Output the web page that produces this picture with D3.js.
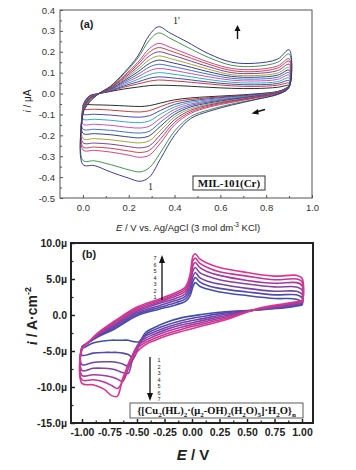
<!DOCTYPE html>
<html>
<head>
<meta charset="utf-8">
<script src="https://d3js.org/d3.v7.min.js"></script>
<style>
  body { margin: 0; background: #fff; }
  svg { display: block; }
  text { font-family: "Liberation Sans", Arial, sans-serif; }
</style>
</head>
<body>
<svg id="chart" width="356" height="470"></svg>
<script>
// ---------- panel (a) data : MIL-101(Cr), 13 scans, outer -> inner ----------
const potA_up = [0.00, 0.01, 0.03, 0.07, 0.12, 0.18, 0.24, 0.29, 0.33, 0.38, 0.45, 0.55, 0.65, 0.75, 0.85, 0.90];
const potA_dn = [0.90, 0.86, 0.75, 0.65, 0.55, 0.47, 0.40, 0.34, 0.29, 0.25, 0.20, 0.12, 0.05, 0.00];

const curA_up = [
  [-0.100, -0.070, -0.040, 0.000, 0.035, 0.100, 0.180, 0.280, 0.320, 0.290, 0.250, 0.190, 0.150, 0.145, 0.165, 0.210],
  [-0.095, -0.065, -0.035, 0.000, 0.033, 0.095, 0.170, 0.255, 0.290, 0.265, 0.225, 0.172, 0.135, 0.130, 0.150, 0.190],
  [-0.090, -0.060, -0.030, 0.000, 0.030, 0.085, 0.150, 0.215, 0.240, 0.222, 0.192, 0.150, 0.120, 0.115, 0.132, 0.167],
  [-0.088, -0.058, -0.028, 0.000, 0.028, 0.080, 0.140, 0.198, 0.220, 0.205, 0.178, 0.140, 0.110, 0.105, 0.122, 0.155],
  [-0.085, -0.055, -0.026, 0.000, 0.026, 0.074, 0.128, 0.180, 0.200, 0.187, 0.163, 0.128, 0.100, 0.096, 0.110, 0.140],
  [-0.082, -0.052, -0.024, 0.000, 0.024, 0.068, 0.116, 0.162, 0.180, 0.168, 0.147, 0.116, 0.090, 0.086, 0.098, 0.125],
  [-0.080, -0.050, -0.022, 0.000, 0.022, 0.062, 0.104, 0.144, 0.160, 0.150, 0.132, 0.104, 0.082, 0.078, 0.088, 0.112],
  [-0.077, -0.047, -0.020, 0.000, 0.020, 0.056, 0.092, 0.127, 0.140, 0.132, 0.116, 0.092, 0.073, 0.069, 0.078, 0.100],
  [-0.074, -0.045, -0.018, 0.000, 0.018, 0.050, 0.080, 0.109, 0.120, 0.114, 0.100, 0.080, 0.064, 0.060, 0.068, 0.088],
  [-0.070, -0.042, -0.016, 0.000, 0.016, 0.043, 0.068, 0.091, 0.100, 0.095, 0.084, 0.067, 0.054, 0.050, 0.057, 0.075],
  [-0.066, -0.040, -0.014, 0.000, 0.014, 0.037, 0.056, 0.073, 0.080, 0.076, 0.068, 0.055, 0.045, 0.042, 0.048, 0.062],
  [-0.062, -0.037, -0.012, 0.000, 0.012, 0.031, 0.046, 0.059, 0.065, 0.062, 0.056, 0.046, 0.037, 0.034, 0.040, 0.050],
  [-0.058, -0.034, -0.010, 0.000, 0.010, 0.022, 0.031, 0.038, 0.040, 0.039, 0.036, 0.030, 0.025, 0.024, 0.030, 0.040]
];
const curA_dn = [
  [0.030, 0.000, -0.030, -0.055, -0.085, -0.120, -0.200, -0.310, -0.400, -0.420, -0.405, -0.375, -0.345, -0.340],
  [0.030, 0.000, -0.028, -0.050, -0.078, -0.110, -0.180, -0.280, -0.355, -0.375, -0.365, -0.340, -0.322, -0.320],
  [0.032, 0.003, -0.022, -0.042, -0.065, -0.095, -0.150, -0.235, -0.295, -0.305, -0.295, -0.280, -0.272, -0.270],
  [0.032, 0.004, -0.020, -0.038, -0.060, -0.088, -0.138, -0.215, -0.272, -0.282, -0.275, -0.262, -0.256, -0.255],
  [0.033, 0.005, -0.018, -0.035, -0.055, -0.080, -0.125, -0.195, -0.250, -0.260, -0.254, -0.242, -0.237, -0.235],
  [0.033, 0.006, -0.016, -0.032, -0.050, -0.072, -0.112, -0.175, -0.226, -0.236, -0.232, -0.221, -0.216, -0.215],
  [0.034, 0.007, -0.014, -0.028, -0.045, -0.064, -0.100, -0.155, -0.202, -0.212, -0.208, -0.197, -0.192, -0.190],
  [0.034, 0.008, -0.012, -0.025, -0.040, -0.057, -0.088, -0.136, -0.180, -0.189, -0.186, -0.176, -0.171, -0.170],
  [0.035, 0.009, -0.010, -0.022, -0.035, -0.050, -0.076, -0.117, -0.156, -0.165, -0.162, -0.152, -0.147, -0.146],
  [0.035, 0.010, -0.008, -0.018, -0.030, -0.042, -0.064, -0.098, -0.131, -0.139, -0.137, -0.128, -0.123, -0.122],
  [0.036, 0.011, -0.006, -0.015, -0.025, -0.035, -0.052, -0.080, -0.106, -0.113, -0.111, -0.103, -0.099, -0.098],
  [0.036, 0.012, -0.004, -0.012, -0.020, -0.028, -0.040, -0.062, -0.082, -0.088, -0.086, -0.079, -0.075, -0.074],
  [0.037, 0.013, -0.002, -0.009, -0.015, -0.021, -0.030, -0.045, -0.058, -0.062, -0.060, -0.056, -0.054, -0.054]
];
const colorsA = ["#27278a", "#2f8a35", "#c8307f", "#d42a2a", "#6b2c92", "#9c9a1c", "#1f2a7e",
                 "#2a62c4", "#c43ab4", "#1aa3b3", "#3434a8", "#c42222", "#151515"];
const ticksA_x = [0.0, 0.2, 0.4, 0.6, 0.8, 1.0];
const ticksA_y = [-0.5, -0.4, -0.3, -0.2, -0.1, 0.0, 0.1, 0.2, 0.3, 0.4];

// ---------- panel (b) data : Cu complex, 7 scans, 1 (blue) -> 7 (pink) ----------
const potB_up = [-1.00, -0.95, -0.85, -0.70, -0.50, -0.30, -0.15, -0.06, -0.02, 0.01, 0.03, 0.07, 0.14, 0.25, 0.50, 0.75, 0.95, 1.00];
const potB_dn = [1.00, 0.97, 0.85, 0.60, 0.30, 0.10, -0.10, -0.25, -0.35, -0.42, -0.48, -0.53, -0.58, -0.63, -0.68, -0.73, -0.80, -0.90, -1.00];

const curB_up = [
  [-4.4, -3.9, -3.0, -1.9, -0.1, 0.8, 1.4, 1.9, 2.6, 4.0, 4.5, 4.0, 3.6, 3.2, 2.7, 2.3, 2.2, 1.8],
  [-4.5, -3.9, -2.9, -1.7, 0.1, 1.05, 1.7, 2.25, 3.1, 4.7, 5.2, 4.6, 4.1, 3.7, 3.2, 2.8, 2.8, 2.4],
  [-4.5, -3.9, -2.8, -1.5, 0.3, 1.3, 2.0, 2.6, 3.6, 5.4, 5.9, 5.2, 4.7, 4.3, 3.7, 3.3, 3.3, 2.9],
  [-4.6, -3.9, -2.7, -1.3, 0.5, 1.6, 2.3, 2.95, 4.1, 6.2, 6.6, 5.9, 5.4, 4.9, 4.3, 3.9, 3.9, 3.5],
  [-4.7, -3.9, -2.6, -1.1, 0.7, 1.8, 2.6, 3.3, 4.6, 6.9, 7.3, 6.6, 6.0, 5.5, 4.8, 4.4, 4.5, 4.1],
  [-4.7, -3.9, -2.5, -0.9, 0.9, 2.0, 2.85, 3.6, 5.1, 7.6, 7.9, 7.2, 6.6, 6.0, 5.4, 4.9, 5.0, 4.6],
  [-4.8, -3.9, -2.4, -0.8, 1.1, 2.2, 3.1, 3.9, 5.5, 8.2, 8.5, 7.8, 7.2, 6.6, 5.9, 5.4, 5.5, 5.1]
];
const curB_dn = [
  [1.4, 1.3, 1.0, 0.70, 0.45, 0.10, -0.4, -1.1, -1.8, -2.4, -3.7, -3.7, -3.5, -3.5, -3.5, -3.5, -3.6, -3.9, -4.6],
  [1.5, 1.4, 1.1, 0.72, 0.30, -0.20, -0.8, -1.5, -2.1, -2.7, -4.2, -5.9, -5.5, -5.3, -5.2, -5.2, -5.2, -5.3, -5.6],
  [1.6, 1.5, 1.2, 0.75, 0.10, -0.50, -1.1, -1.8, -2.4, -2.9, -3.8, -6.0, -7.1, -6.8, -6.6, -6.5, -6.5, -6.6, -6.9],
  [1.7, 1.6, 1.3, 0.80, -0.10, -0.75, -1.4, -2.1, -2.7, -3.2, -3.9, -5.3, -8.1, -8.0, -7.7, -7.5, -7.4, -7.4, -7.7],
  [1.8, 1.7, 1.4, 0.80, -0.30, -1.00, -1.7, -2.4, -3.0, -3.5, -4.1, -5.2, -7.5, -9.2, -8.9, -8.6, -8.4, -8.3, -8.4],
  [1.9, 1.8, 1.5, 0.85, -0.50, -1.25, -2.0, -2.7, -3.3, -3.8, -4.4, -5.3, -6.8, -9.2, -10.2, -9.8, -9.3, -9.0, -9.0],
  [2.0, 1.9, 1.6, 0.90, -0.70, -1.50, -2.3, -3.0, -3.6, -4.1, -4.8, -5.7, -7.0, -8.8, -11.3, -11.2, -10.3, -9.7, -9.5]
];
const colorsB = ["#3f4fae", "#5749ab", "#7044a8", "#8a3fa4", "#a53b9e", "#c23796", "#de348e"];
const ticksB_x = [-1.00, -0.75, -0.50, -0.25, 0.00, 0.25, 0.50, 0.75, 1.00];
const ticksB_y = [-15, -10, -5, 0, 5, 10];
const scanLabels = ["1", "2", "3", "4", "5", "6", "7"];

const svg = d3.select("#chart");
svg.append("rect").attr("width", 356).attr("height", 470).attr("fill", "#fff");

function loopPoints(pUp, cUp, pDn, cDn) {
  const pts = [];
  pUp.forEach((p, i) => pts.push([p, cUp[i]]));
  pDn.forEach((p, i) => pts.push([p, cDn[i]]));
  return pts;
}

// ================= panel (a) =================
const xA = d3.scaleLinear().domain([-0.1, 1.0]).range([60, 312]);
const yA = d3.scaleLinear().domain([-0.5, 0.4]).range([198, 10]);
const gA = svg.append("g");

const lineA = d3.line().x(d => xA(d[0])).y(d => yA(d[1])).curve(d3.curveCatmullRomClosed.alpha(0.5));
for (let k = curA_up.length - 1; k >= 0; k--) {
  gA.append("path")
    .attr("d", lineA(loopPoints(potA_up, curA_up[k], potA_dn, curA_dn[k])))
    .attr("fill", "none")
    .attr("stroke", colorsA[k])
    .attr("stroke-width", 0.9);
}

gA.append("rect").attr("x", 60).attr("y", 10).attr("width", 252).attr("height", 188)
  .attr("fill", "none").attr("stroke", "#555").attr("stroke-width", 1);

let ax = gA.append("g").attr("transform", "translate(0,198)")
  .call(d3.axisBottom(xA).tickValues(ticksA_x).tickSize(-3).tickPadding(6).tickFormat(d => d.toFixed(1)));
ax.select(".domain").remove();
ax.selectAll("text").attr("font-size", 9.5).attr("fill", "#333").style("font-family", "'Liberation Sans', Arial");
ax.selectAll("line").attr("stroke", "#555");
let axm = gA.append("g").attr("transform", "translate(0,198)")
  .call(d3.axisBottom(xA).tickValues([0.1, 0.3, 0.5, 0.7, 0.9]).tickSize(-2).tickFormat(""));
axm.select(".domain").remove();
axm.selectAll("line").attr("stroke", "#555");

let ay = gA.append("g").attr("transform", "translate(60,0)")
  .call(d3.axisLeft(yA).tickValues(ticksA_y).tickSize(-3).tickPadding(5).tickFormat(d => d.toFixed(1)));
ay.select(".domain").remove();
ay.selectAll("text").attr("font-size", 9.5).attr("fill", "#333").style("font-family", "'Liberation Sans', Arial");
ay.selectAll("line").attr("stroke", "#555");
let aym = gA.append("g").attr("transform", "translate(60,0)")
  .call(d3.axisLeft(yA).tickValues([-0.45, -0.35, -0.25, -0.15, -0.05, 0.05, 0.15, 0.25, 0.35]).tickSize(-2).tickFormat(""));
aym.select(".domain").remove();
aym.selectAll("line").attr("stroke", "#555");

// axis titles (a)
let tA = gA.append("text").attr("x", 188).attr("y", 231).attr("text-anchor", "middle")
  .attr("font-size", 9.5).attr("fill", "#222");
tA.append("tspan").attr("font-style", "italic").text("E");
tA.append("tspan").text(" / V vs. Ag/AgCl (3 mol dm");
tA.append("tspan").attr("font-size", 6.5).attr("dy", -4).text("-3");
tA.append("tspan").attr("dy", 4).text(" KCl)");

let tAy = gA.append("text").attr("transform", "translate(31,101) rotate(-90)").attr("text-anchor", "middle")
  .attr("font-size", 10).attr("fill", "#222");
tAy.append("tspan").attr("font-style", "italic").text("i");
tAy.append("tspan").text(" / μA");

gA.append("text").attr("x", 80).attr("y", 28).attr("font-size", 11).attr("font-weight", "bold")
  .attr("fill", "#222").text("(a)");
gA.append("text").attr("x", 173).attr("y", 24).attr("font-size", 10).attr("fill", "#222")
  .style("font-family", "'Liberation Serif', serif").text("1'");
gA.append("text").attr("x", 148).attr("y", 190).attr("font-size", 10).attr("fill", "#222")
  .style("font-family", "'Liberation Serif', serif").text("1");

// arrows (a)
gA.append("line").attr("x1", 237.5).attr("y1", 39).attr("x2", 237.5).attr("y2", 30)
  .attr("stroke", "#111").attr("stroke-width", 1.4);
gA.append("path").attr("d", "M234.5,31 L237.5,25 L240.5,31 Z").attr("fill", "#111");
gA.append("line").attr("x1", 265).attr("y1", 109.5).attr("x2", 256).attr("y2", 112)
  .attr("stroke", "#111").attr("stroke-width", 1.4);
gA.append("path").attr("d", "M258,109 L251.5,113.5 L258.8,114.6 Z").attr("fill", "#111");

// label box (a)
gA.append("rect").attr("x", 193).attr("y", 176).attr("width", 72).attr("height", 14)
  .attr("fill", "#fff").attr("stroke", "#333").attr("stroke-width", 1);
gA.append("text").attr("x", 229).attr("y", 187).attr("text-anchor", "middle")
  .attr("font-size", 11).attr("font-weight", "bold").attr("fill", "#111")
  .style("font-family", "'Liberation Serif', serif").text("MIL-101(Cr)");

// ================= panel (b) =================
const xB = d3.scaleLinear().domain([-1.1, 1.1]).range([71, 313]);
const yB = d3.scaleLinear().domain([-15, 10]).range([423, 243]);
const gB = svg.append("g");

const lineB = d3.line().x(d => xB(d[0])).y(d => yB(d[1])).curve(d3.curveCatmullRomClosed.alpha(0.5));
for (let k = 0; k < curB_up.length; k++) {
  gB.append("path")
    .attr("d", lineB(loopPoints(potB_up, curB_up[k], potB_dn, curB_dn[k])))
    .attr("fill", "none")
    .attr("stroke", colorsB[k])
    .attr("stroke-width", 1.6);
}

gB.append("rect").attr("x", 71).attr("y", 243).attr("width", 242).attr("height", 180)
  .attr("fill", "none").attr("stroke", "#222").attr("stroke-width", 2);

let bx = gB.append("g").attr("transform", "translate(0,423)")
  .call(d3.axisBottom(xB).tickValues(ticksB_x).tickSize(-4).tickPadding(6).tickFormat(d => d.toFixed(2)));
bx.select(".domain").remove();
bx.selectAll("text").attr("font-size", 10.5).attr("font-weight", "bold").attr("fill", "#222").style("font-family", "'Liberation Sans', Arial");
bx.selectAll("line").attr("stroke", "#222").attr("stroke-width", 1.5);
let bxm = gB.append("g").attr("transform", "translate(0,423)")
  .call(d3.axisBottom(xB).tickValues([-0.875, -0.625, -0.375, -0.125, 0.125, 0.375, 0.625, 0.875]).tickSize(-2.5).tickFormat(""));
bxm.select(".domain").remove();
bxm.selectAll("line").attr("stroke", "#222").attr("stroke-width", 1.2);

let by = gB.append("g").attr("transform", "translate(71,0)")
  .call(d3.axisLeft(yB).tickValues(ticksB_y).tickSize(-4).tickPadding(4)
    .tickFormat(d => d === 0 ? "0.0" : d.toFixed(1) + "µ"));
by.select(".domain").remove();
by.selectAll("text").attr("font-size", 10.5).attr("font-weight", "bold").attr("fill", "#222").style("font-family", "'Liberation Sans', Arial");
by.selectAll("line").attr("stroke", "#222").attr("stroke-width", 1.5);
let bym = gB.append("g").attr("transform", "translate(71,0)")
  .call(d3.axisLeft(yB).tickValues([-12.5, -7.5, -2.5, 2.5, 7.5]).tickSize(-2.5).tickFormat(""));
bym.select(".domain").remove();
bym.selectAll("line").attr("stroke", "#222").attr("stroke-width", 1.2);

// axis titles (b)
let tB = gB.append("text").attr("x", 193).attr("y", 460).attr("text-anchor", "middle")
  .attr("font-size", 15).attr("font-weight", "bold").attr("fill", "#222");
tB.append("tspan").attr("font-style", "italic").text("E");
tB.append("tspan").text(" / V");

let tBy = gB.append("text").attr("transform", "translate(37,316) rotate(-90)").attr("text-anchor", "middle")
  .attr("font-size", 14).attr("font-weight", "bold").attr("fill", "#222");
tBy.append("tspan").attr("font-style", "italic").style("font-family", "'Liberation Serif', serif").text("i");
tBy.append("tspan").text(" / A·cm");
tBy.append("tspan").attr("font-size", 9).attr("dy", -6).text("-2");

gB.append("text").attr("x", 82).attr("y", 258).attr("font-size", 11).attr("font-weight", "bold")
  .attr("fill", "#222").text("(b)");

// arrows with scan numbers (b)
gB.append("line").attr("x1", 162).attr("y1", 300).attr("x2", 162).attr("y2", 262)
  .attr("stroke", "#111").attr("stroke-width", 1.3);
gB.append("path").attr("d", "M159,263 L162,255 L165,263 Z").attr("fill", "#111");
gB.append("line").attr("x1", 150).attr("y1", 357).attr("x2", 150).attr("y2", 394)
  .attr("stroke", "#111").attr("stroke-width", 1.3);
gB.append("path").attr("d", "M147,393 L150,401 L153,393 Z").attr("fill", "#111");

const upNum = d3.scalePoint().domain(scanLabels.slice().reverse()).range([258, 297]);
gB.selectAll(".upn").data(scanLabels).join("text")
  .attr("x", 155).attr("y", d => upNum(d) + 2).attr("text-anchor", "middle")
  .attr("font-size", 5.5).attr("fill", "#222").text(d => d);
const dnNum = d3.scalePoint().domain(scanLabels).range([360, 399]);
gB.selectAll(".dnn").data(scanLabels).join("text")
  .attr("x", 159).attr("y", d => dnNum(d) + 2).attr("text-anchor", "middle")
  .attr("font-size", 5.5).attr("fill", "#222").text(d => d);

// formula box (b)
gB.append("rect").attr("x", 130).attr("y", 403).attr("width", 173).attr("height", 15)
  .attr("fill", "#fff").attr("stroke", "#333").attr("stroke-width", 0.8);
const formula = [["{[Cu", 0], ["2", 1], ["(HL)", 0], ["2", 1], ["·(μ", 0], ["2", 1], ["-OH)", 0], ["2", 1],
                 ["(H", 0], ["2", 1], ["O)", 0], ["5", 1], ["]·H", 0], ["2", 1], ["O}", 0], ["n", 1]];
let tf = gB.append("text").attr("x", 216.5).attr("y", 414).attr("text-anchor", "middle")
  .attr("font-size", 10.5).attr("font-weight", "bold").attr("fill", "#111")
  .style("font-family", "'Liberation Serif', serif");
let prevSub = 0;
formula.forEach(([s, sub]) => {
  tf.append("tspan").attr("font-size", sub ? 7 : 10.5).attr("dy", (sub - prevSub) * 2.5).text(s);
  prevSub = sub;
});
</script>
</body>
</html>
